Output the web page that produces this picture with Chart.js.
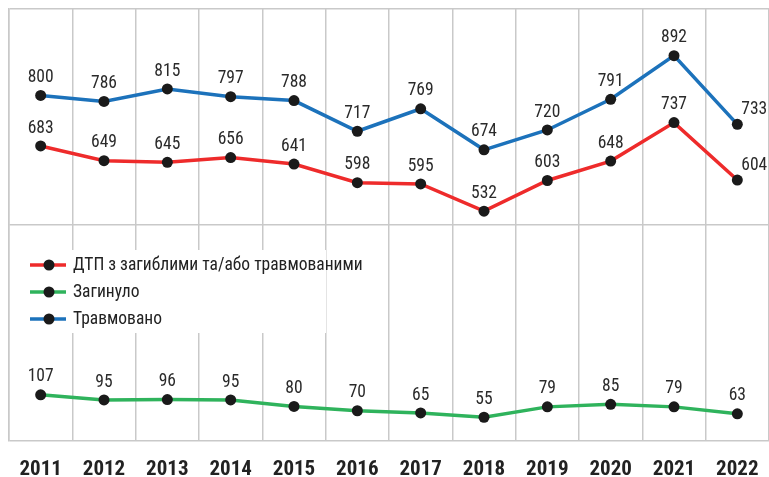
<!DOCTYPE html>
<html>
<head>
<meta charset="utf-8">
<script src="https://cdn.jsdelivr.net/npm/chart.js@4"></script>
<style>
  html, body { margin: 0; padding: 0; background: #fff; overflow: hidden; }
  #wrap { width: 769px; height: 477px; position: relative; }
  #chart { display: block; }
</style>
</head>
<body>
<div id="wrap"><canvas id="chart"></canvas></div>
<script>
    "use strict";

    var years = ['2011', '2012', '2013', '2014', '2015', '2016', '2017', '2018', '2019', '2020', '2021', '2022'];
    var accidents = [683, 649, 645, 656, 641, 598, 595, 532, 603, 648, 737, 604];
    var killed = [107, 95, 96, 95, 80, 70, 65, 55, 79, 85, 79, 63];
    var injured = [800, 786, 815, 797, 788, 717, 769, 674, 720, 791, 892, 733];
    var yTicks = [0, 500, 1000];

    var FONT = '"Liberation Sans Narrow", "Roboto Condensed", Roboto, sans-serif';
    var GRID = '#c9c9c9';

    function series(label, data, color) {
        return {
            label: label,
            data: data,
            borderColor: color,
            backgroundColor: color,
            borderWidth: 3.5,
            pointRadius: 5.5,
            pointHoverRadius: 5.5,
            pointBackgroundColor: '#1a1a1a',
            pointBorderColor: '#1a1a1a',
            pointBorderWidth: 0,
            tension: 0
        };
    }

    // Value labels above each point; the last column sits to the right of the dot
    var valueLabels = {
        id: 'valueLabels',
        afterDatasetsDraw: function (chart) {
            var ctx = chart.ctx;
            ctx.save();
            ctx.font = '17.5px ' + FONT;
            ctx.fillStyle = '#2a2a2a';
            chart.data.datasets.forEach(function (ds, i) {
                var meta = chart.getDatasetMeta(i);
                meta.data.forEach(function (pt, j) {
                    var last = j === meta.data.length - 1 && ds.data[j] > 300;
                    ctx.textBaseline = 'bottom';
                    if (last) {
                        ctx.textAlign = 'left';
                        ctx.fillText(ds.data[j], pt.x + 4, pt.y - 6);
                    } else {
                        ctx.textAlign = 'center';
                        ctx.fillText(ds.data[j], pt.x, pt.y - 9);
                    }
                });
            });
            ctx.restore();
        }
    };

    // Legend box drawn inside the plot, over the grid
    var innerLegend = {
        id: 'innerLegend',
        afterDraw: function (chart) {
            var ctx = chart.ctx;
            var area = chart.chartArea;
            ctx.save();
            ctx.fillStyle = '#fff';
            ctx.fillRect(area.left + 1, 250, 316, 83);
            var rows = [265, 292, 319];
            chart.data.datasets.forEach(function (ds, i) {
                var y = rows[i];
                ctx.strokeStyle = ds.borderColor;
                ctx.lineWidth = 3.5;
                ctx.beginPath();
                ctx.moveTo(30, y);
                ctx.lineTo(66, y);
                ctx.stroke();
                ctx.fillStyle = '#1a1a1a';
                ctx.beginPath();
                ctx.arc(49, y, 5.5, 0, Math.PI * 2);
                ctx.fill();
                ctx.font = '17.5px ' + FONT;
                ctx.textAlign = 'left';
                ctx.textBaseline = 'middle';
                ctx.fillStyle = '#222';
                ctx.fillText(ds.label, 73, y + 1);
            });
            ctx.restore();
        }
    };

    new Chart(document.getElementById('chart'), {
        type: 'line',
        data: {
            labels: years,
            datasets: [
                series('ДТП з загиблими та/або травмованими', accidents, '#ee2b2b'),
                series('Загинуло', killed, '#2fb35c'),
                series('Травмовано', injured, '#1c72bb')
            ]
        },
        options: {
            responsive: true,
            maintainAspectRatio: false,
            animation: false,
            layout: { autoPadding: false, padding: { left: 9, top: 9, right: 0, bottom: 0 } },
            plugins: {
                legend: { display: false },
                tooltip: { enabled: false }
            },
            scales: {
                x: {
                    offset: true,
                    grid: { offset: true, color: GRID, lineWidth: 1.5, drawTicks: false },
                    border: { display: false },
                    afterFit: function (axis) {
                        axis.height = 36;
                        // the plot runs right up to the canvas edge
                        axis.paddingLeft = 0;
                        axis.paddingRight = 0;
                    },
                    ticks: {
                        padding: 16,
                        color: '#222',
                        font: { family: FONT, size: 21, weight: 'bold' }
                    }
                },
                y: {
                    min: yTicks[0],
                    max: yTicks[yTicks.length - 1],
                    afterBuildTicks: function (axis) {
                        axis.ticks = yTicks.map(function (v) { return { value: v }; });
                    },
                    grid: { color: GRID, lineWidth: 1.5, drawTicks: false },
                    border: { color: GRID, width: 1.5 },
                    ticks: { display: false }
                }
            }
        },
        plugins: [valueLabels, innerLegend]
    });
</script>
</body>
</html>
